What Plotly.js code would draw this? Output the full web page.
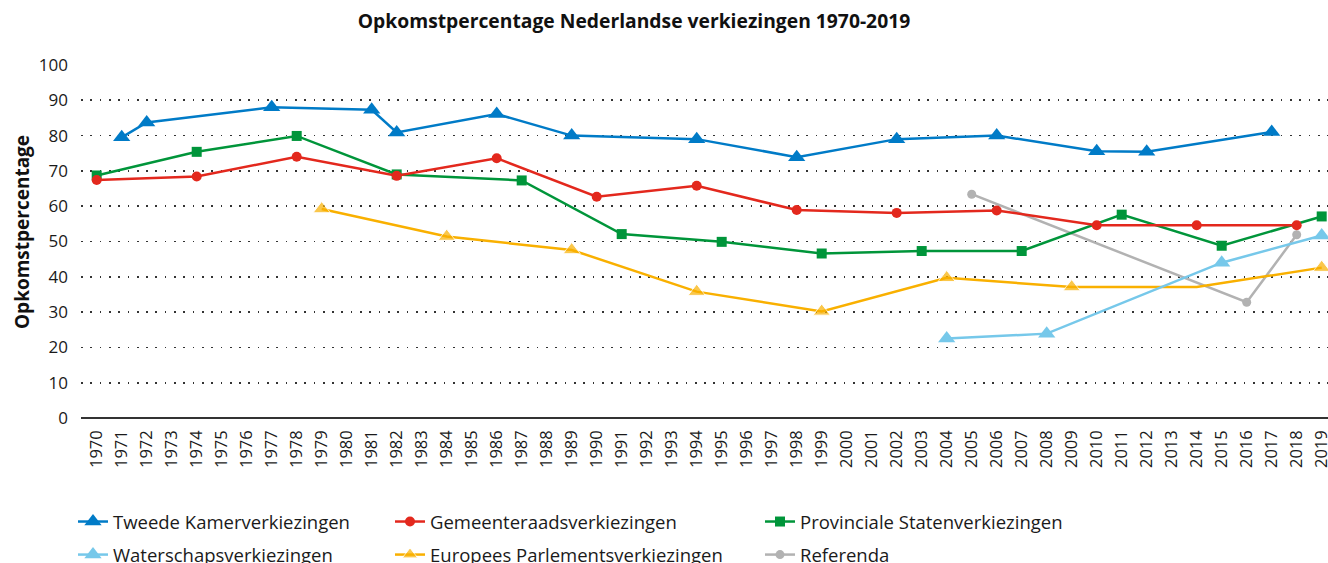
<!DOCTYPE html>
<html>
<head>
<meta charset="utf-8">
<script src="https://cdn.plot.ly/plotly-3.0.1.min.js"></script>
<style>html,body{margin:0;padding:0;background:#fff;overflow:hidden}#chart{width:1328px;height:563px}</style>
</head>
<body>
<div id="chart"></div>
<script>
// Years shown on the category axis
const years = [1970,1971,1972,1973,1974,1975,1976,1977,1978,1979,1980,1981,1982,1983,1984,1985,1986,1987,1988,1989,
  1990,1991,1992,1993,1994,1995,1996,1997,1998,1999,2000,2001,2002,2003,2004,2005,2006,2007,2008,2009,
  2010,2011,2012,2013,2014,2015,2016,2017,2018,2019];

// Tweede Kamerverkiezingen
const tkYears = [1971,1972,1977,1981,1982,1986,1989,1994,1998,2002,2006,2010,2012,2017];
const tkVals  = [79.5,83.7,88.0,87.3,80.9,86.1,80.0,79.0,73.9,79.0,80.0,75.6,75.4,81.0];
// Gemeenteraadsverkiezingen
const grYears = [1970,1974,1978,1982,1986,1990,1994,1998,2002,2006,2010,2014,2018];
const grVals  = [67.4,68.4,74.0,68.6,73.6,62.7,65.8,58.9,58.1,58.8,54.6,54.6,54.6];
// Provinciale Statenverkiezingen
const psYears = [1970,1974,1978,1982,1987,1991,1995,1999,2003,2007,2011,2015,2019];
const psVals  = [68.7,75.4,79.9,69.0,67.3,52.1,49.9,46.6,47.3,47.3,57.6,48.8,57.1];
// Waterschapsverkiezingen
const wsYears = [2004,2008,2015,2019];
const wsVals  = [22.5,23.9,44.0,51.7];
// Europees Parlementsverkiezingen
const epYears = [1979,1984,1989,1994,1999,2004,2009,2014,2019];
const epVals  = [59.2,51.4,47.6,35.8,30.2,39.7,37.1,37.1,42.6];
// Referenda
const rfYears = [2005,2016,2018];
const rfVals  = [63.4,32.8,51.9];

const yTicks = [0,10,20,30,40,50,60,70,80,90,100];

const FONT = '"Open Sans", "Noto Sans", sans-serif';
const LW = 2.5;

function tr(name, x, y, color, symbol, size, legend, rank, sizes) {
  return {
    type: 'scatter', mode: 'lines+markers', name: name, x: x, y: y,
    line: {color: color, width: LW},
    marker: {color: color, symbol: symbol, size: sizes || size},
    legend: legend, legendgroup: name, legendrank: rank,
    hoverinfo: 'skip', cliponaxis: false
  };
}

const TRI = 15;
const epSizes = epYears.map(function (yr) { return yr === 2014 ? 0 : TRI; });

const traces = [
  tr('Referenda', rfYears, rfVals, '#b2b2b2', 'circle', 9, 'legend3', 2),
  tr('Europees Parlementsverkiezingen', epYears, epVals, '#f9b000', 'triangle-up', TRI, 'legend2', 2, epSizes),
  tr('Waterschapsverkiezingen', wsYears, wsVals, '#76c8ea', 'triangle-up', TRI, 'legend', 2),
  tr('Provinciale Statenverkiezingen', psYears, psVals, '#00953a', 'square', 10, 'legend3', 1),
  tr('Gemeenteraadsverkiezingen', grYears, grVals, '#e3281d', 'circle', 10, 'legend2', 1),
  tr('Tweede Kamerverkiezingen', tkYears, tkVals, '#007bc7', 'triangle-up', TRI, 'legend', 1)
];

const legendBase = {
  orientation: 'v', xref: 'container', yref: 'container', xanchor: 'left', yanchor: 'top',
  y: 1 - 503/563, font: {family: FONT, size: 18.5, color: '#1a1a1a'},
  bgcolor: 'rgba(0,0,0,0)', borderwidth: 0, traceorder: 'grouped', tracegroupgap: 6
};

const layout = {
  width: 1328, height: 563,
  margin: {l: 81, r: 0, t: 65, b: 145, autoexpand: false},
  paper_bgcolor: '#fff', plot_bgcolor: '#fff',
  font: {family: FONT, color: '#1a1a1a'},
  title: {text: '<b>Opkomstpercentage Nederlandse verkiezingen 1970-2019</b>',
    x: 634/1328, xanchor: 'center', y: 1 - 21/563, yanchor: 'middle',
    font: {family: FONT, size: 19.3, color: '#111'}},
  showlegend: true,
  legend: Object.assign({}, legendBase, {x: 73/1328}),
  legend2: Object.assign({}, legendBase, {x: 390/1328}),
  legend3: Object.assign({}, legendBase, {x: 760/1328}),
  xaxis: {
    type: 'linear', range: [1969.372, 2019.252],
    tickmode: 'array', tickvals: years, ticktext: years.map(String),
    tickangle: -90, tickfont: {family: FONT, size: 16.5, color: '#1a1a1a'},
    showgrid: false, zeroline: false, showline: false, ticks: '',
    ticklabelstandoff: 8, ticklabeloverflow: 'allow', fixedrange: true
  },
  yaxis: {
    range: [0, 100], tickmode: 'array', tickvals: yTicks,
    tickfont: {family: FONT, size: 17, color: '#1a1a1a'},
    showgrid: true, gridcolor: '#333', gridwidth: 1.7, griddash: '1.7px,7.6px',
    zeroline: true, zerolinecolor: '#333', zerolinewidth: 2,
    showline: false, ticks: '', ticklabelstandoff: 12,
    fixedrange: true
  },
  annotations: [{
    text: '<b>Opkomstpercentage</b>', textangle: -90,
    xref: 'paper', yref: 'paper', x: (22 - 81) / 1247, y: (418 - 232) / 353,
    xanchor: 'center', yanchor: 'middle', showarrow: false,
    font: {family: FONT, size: 19, color: '#111'}
  }]
};

Plotly.newPlot('chart', traces, layout, {displayModeBar: false, staticPlot: true});
</script>
</body>
</html>
